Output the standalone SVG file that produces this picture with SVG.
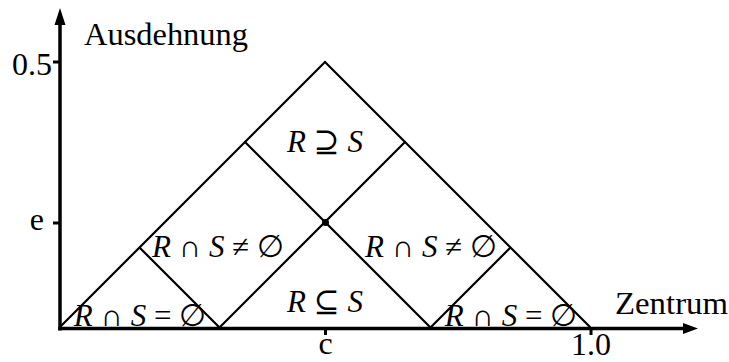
<svg xmlns="http://www.w3.org/2000/svg" width="729" height="362" viewBox="0 0 729 362">
<style>
.ax{stroke:#000;stroke-width:3.5;fill:none}
.tk{stroke:#000;stroke-width:3;fill:none}
.ln{stroke:#000;stroke-width:2.2;fill:none;stroke-linecap:round}
.t{font-family:"Liberation Serif","DejaVu Serif",serif;font-size:32px;fill:#000}
.m{font-family:"Liberation Serif","DejaVu Serif",serif;font-size:31px;font-style:italic;fill:#000}
.op{font-style:normal}
</style>
<rect width="729" height="362" fill="#fff"/>
<g id="axes">
<line class="ax" x1="60" y1="330.5" x2="60" y2="22"/>
<polygon points="60,8 54.5,25 65.5,25" fill="#000"/>
<line class="ax" x1="58.3" y1="328.5" x2="686" y2="328.5"/>
<polygon points="698,328.5 683,323 683,334" fill="#000"/>
<line class="tk" x1="53" y1="62" x2="60" y2="62"/>
<line class="tk" x1="53" y1="223" x2="60" y2="223"/>
<line class="tk" x1="325.5" y1="328" x2="325.5" y2="335"/>
<line class="tk" x1="591" y1="328" x2="591" y2="335"/>
<text class="t" x="84" y="45" textLength="164" lengthAdjust="spacingAndGlyphs">Ausdehnung</text>
<text class="t" x="52" y="75" text-anchor="end">0.5</text>
<text class="t" x="44" y="230" text-anchor="end">e</text>
<text class="t" x="325.5" y="354" text-anchor="middle">c</text>
<text class="t" x="591" y="355" text-anchor="middle">1.0</text>
<text class="t" x="615" y="314" textLength="113" lengthAdjust="spacingAndGlyphs">Zentrum</text>
</g>
<g id="connectors">
<line class="ln" x1="60" y1="327" x2="325" y2="62"/>
<line class="ln" x1="325" y1="62" x2="590" y2="327"/>
<line class="ln" x1="140" y1="248" x2="219" y2="327"/>
<line class="ln" x1="245" y1="142" x2="430" y2="327"/>
<line class="ln" x1="405" y1="142" x2="220" y2="327"/>
<line class="ln" x1="510" y1="248" x2="431" y2="327"/>
<circle cx="325.5" cy="222.5" r="3.5" fill="#000"/>
</g>
<g id="n_top"><text class="m" x="325" y="152" text-anchor="middle">R <tspan class="op">⊇</tspan> S</text></g>
<g id="n_left"><text class="m" x="218" y="257" text-anchor="middle">R <tspan class="op">∩</tspan> S <tspan class="op">≠</tspan> <tspan class="op">∅</tspan></text></g>
<g id="n_right"><text class="m" x="431" y="257" text-anchor="middle">R <tspan class="op">∩</tspan> S <tspan class="op">≠</tspan> <tspan class="op">∅</tspan></text></g>
<g id="n_mid"><text class="m" x="325" y="312" text-anchor="middle">R <tspan class="op">⊆</tspan> S</text></g>
<g id="n_bl"><text class="m" x="140" y="326" text-anchor="middle">R <tspan class="op">∩</tspan> S <tspan class="op">=</tspan> <tspan class="op">∅</tspan></text></g>
<g id="n_br"><text class="m" x="511" y="326" text-anchor="middle">R <tspan class="op">∩</tspan> S <tspan class="op">=</tspan> <tspan class="op">∅</tspan></text></g>
</svg>
